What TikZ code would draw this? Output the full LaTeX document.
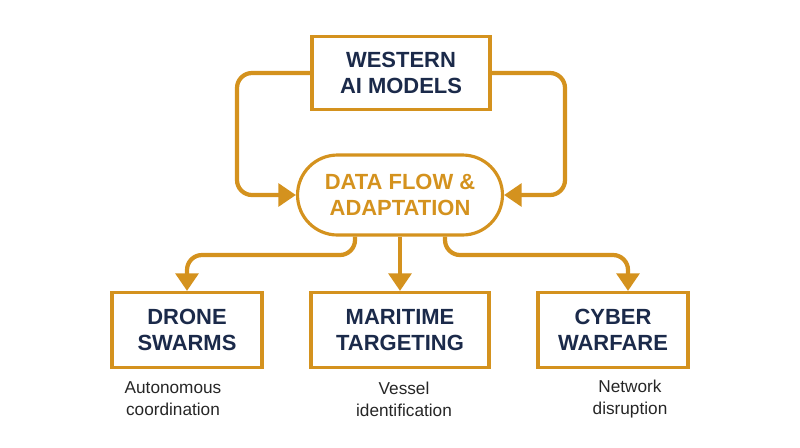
\documentclass[tikz,border=0pt]{standalone}
\usepackage{fontspec}
\setmainfont{Liberation Sans}
\usetikzlibrary{arrows.meta, positioning}
\definecolor{gold}{HTML}{D4921E}
\definecolor{navy}{HTML}{1B2A4A}
\tikzset{%
>={Triangle[width=4.5mm,length=3.5mm]},
  % Specifications for style of nodes:
            box/.style = {rectangle, draw=gold, line width=1.8pt, fill=white,
                            minimum width=3cm, minimum height=1.5cm,
                            font=\bfseries\fontsize{12.5}{15}\selectfont, text=navy, align=center},
            note/.style = {font=\fontsize{9.8}{12.5}\selectfont, text=black!85, align=center},
            flow/.style = {draw=gold, line width=2.4pt, rounded corners=0.3cm, ->}
}
\begin{document}
\begin{tikzpicture}[x=0.02cm, y=-0.02cm]
                \useasboundingbox (0,0) rectangle (800,447);
                \node[box, minimum width=3.56cm, minimum height=1.46cm] (west) at (401,73) {WESTERN\\AI MODELS};
                \node[draw=gold, line width=1.8pt, rounded corners=0.8cm, minimum width=4.1cm, minimum height=1.6cm,
                      font=\bfseries\fontsize{12.5}{15}\selectfont, text=gold, align=center] (hub) at (400,195) {DATA FLOW \&\\ADAPTATION};

                \node[box] (drone) at (187,330) {DRONE\\SWARMS};
                \node[box, minimum width=3.56cm] (mari) at (400,330) {MARITIME\\TARGETING};
                \node[box] (cyber) at (613,330) {CYBER\\WARFARE};

                \node[note] (n1) at (173,399) {Autonomous\\coordination};
                \node[note] (n2) at (404,399) {Vessel\\identification};
                \node[note] (n3) at (630,399) {Network\\disruption};

                \draw[flow] (west.west) -| (237,195) -- (hub.west);
                \draw[flow] (west.east) -| (565,195) -- (hub.east);
                \draw[flow] (hub.south -| 355,0) |- (187,255) -- (drone.north);
                \draw[flow] (hub.south) -- (mari.north);
                \draw[flow] (hub.south -| 445,0) |- (628,255) -- (cyber.north -| 628,0);
            \end{tikzpicture}
\end{document}
